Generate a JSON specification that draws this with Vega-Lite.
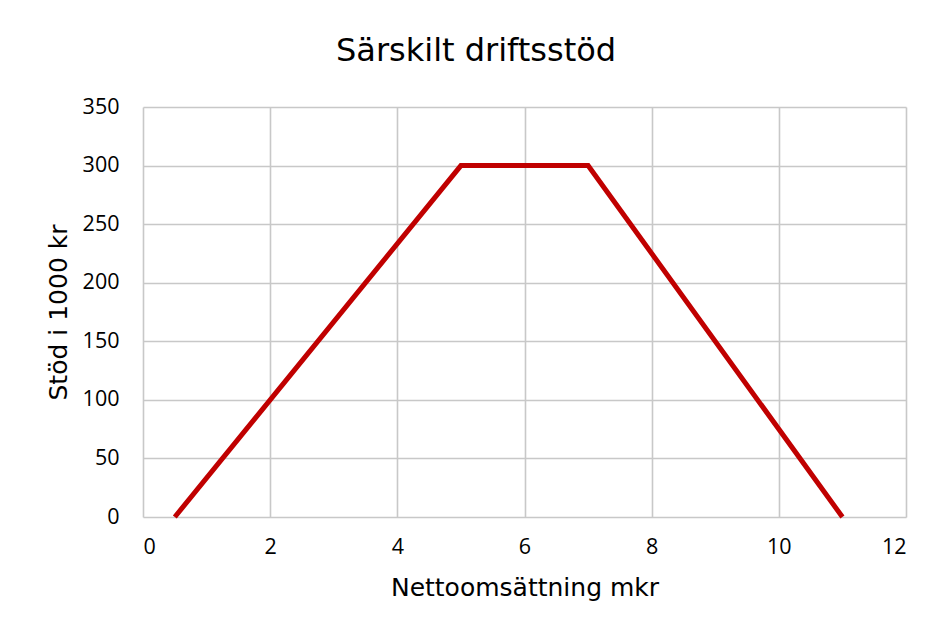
{
  "$schema": "https://vega.github.io/schema/vega-lite/v6.json",
  "autosize": "none",
  "padding": {"left": 143, "top": 107, "right": 32, "bottom": 116},
  "width": 763,
  "height": 410,
  "background": "white",
  "title": {
    "text": "Särskilt driftsstöd",
    "font": "DejaVu Sans",
    "fontSize": 32,
    "fontWeight": "normal",
    "color": "#000000",
    "anchor": "middle",
    "frame": "bounds",
    "offset": 28
  },
  "data": {
    "values": [
      {"x": 0.5, "y": 0},
      {"x": 5, "y": 300},
      {"x": 7, "y": 300},
      {"x": 11, "y": 0}
    ]
  },
  "mark": {"type": "line", "color": "#c00000", "strokeWidth": 5, "strokeJoin": "miter"},
  "encoding": {
    "x": {
      "field": "x",
      "type": "quantitative",
      "scale": {"domain": [0, 12], "nice": false, "zero": false},
      "axis": {"values": [0, 2, 4, 6, 8, 10, 12], "title": "Nettoomsättning mkr", "titlePadding": 18, "labelPadding": 19}
    },
    "y": {
      "field": "y",
      "type": "quantitative",
      "scale": {"domain": [0, 350], "nice": false},
      "axis": {"values": [0, 50, 100, 150, 200, 250, 300, 350], "title": "Stöd i 1000 kr", "titlePadding": 11, "labelPadding": 24}
    }
  },
  "config": {
    "view": {"stroke": null},
    "axis": {
      "domain": false,
      "ticks": false,
      "grid": true,
      "gridColor": "#c8c8c8",
      "gridWidth": 1.6,
      "labelFont": "Open Sans",
      "labelFontSize": 21.5,
      "labelColor": "#000000",
      "titleFont": "DejaVu Sans",
      "titleFontSize": 25,
      "titleFontWeight": "normal",
      "titleColor": "#000000"
    }
  }
}
